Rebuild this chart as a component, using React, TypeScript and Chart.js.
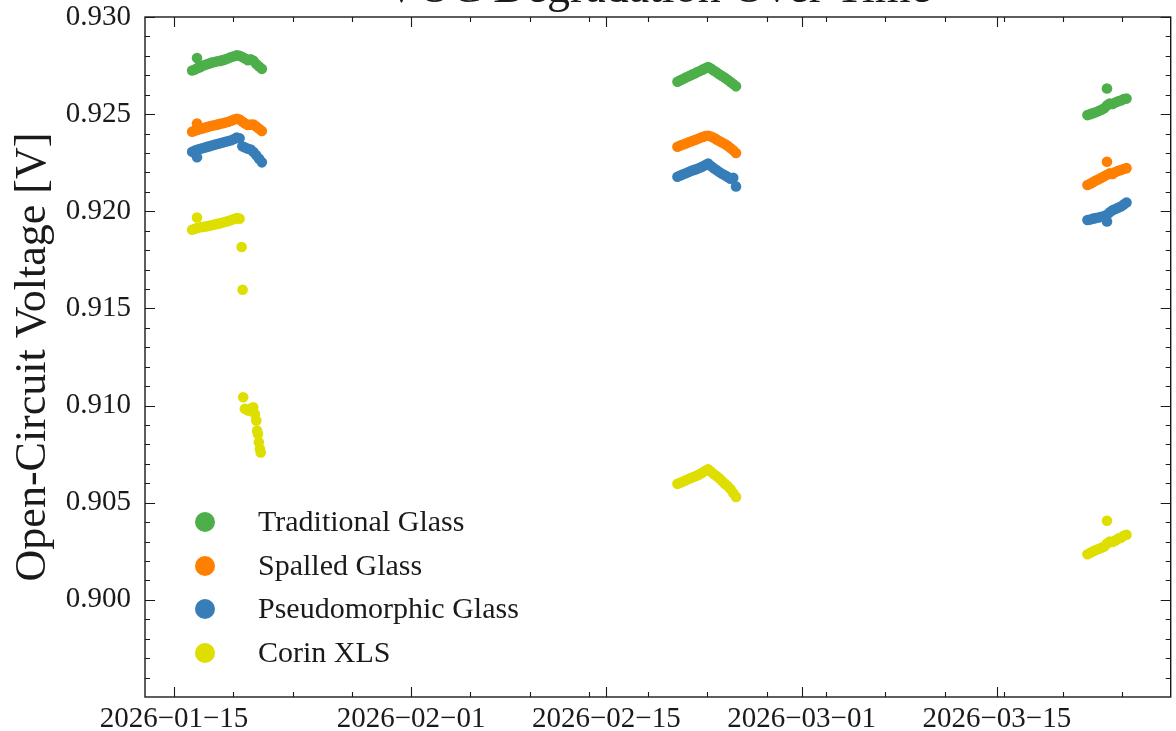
import React, { useEffect, useRef } from "react";
import { Chart, registerables } from "chart.js";

Chart.register(...registerables);

const SERIES_LABELS = ["Traditional Glass", "Spalled Glass", "Pseudomorphic Glass", "Corin XLS"];
const SERIES_COLORS = ["#4daf4a", "#ff7f00", "#377eb8", "#dede00"];
const TITLE = "VOC Degradation Over Time";
const Y_TITLE = "Open-Circuit Voltage [V]";

// x values are days since 2026-01-01 (day 14 = 2026-01-15)
const X_MIN = 11.92;
const X_MAX = 85.47;
const Y_MIN = 0.895;
const Y_MAX = 0.93;
const X_TICK_DAYS = [14, 31, 45, 59, 73];
const X_TICK_LABELS = ["2026\u221201\u221215", "2026\u221202\u221201", "2026\u221202\u221215", "2026\u221203\u221201", "2026\u221203\u221215"];
const X_MINOR_DAYS = [18.25, 22.5, 26.75, 35.25, 39.5, 43.75, 48, 52.25, 56.5, 60.75, 65, 69.25, 73.5, 77.75, 82];
const Y_TICKS = [0.9, 0.905, 0.91, 0.915, 0.92, 0.925, 0.93];

// measurement times (days since 2026-01-01)
const T1 = [15.3, 15.5, 15.7, 15.9, 16.1, 16.3, 16.5, 16.7, 16.9, 17.1, 17.3, 17.5, 17.7, 17.9, 18.1, 18.3, 18.5, 18.7, 18.9, 19.1, 19.3, 19.5, 19.7, 19.9, 20.1, 20.3];
const T2 = [50.1, 50.3, 50.5, 50.7, 50.9, 51.1, 51.3, 51.5, 51.7, 51.9, 52.1, 52.3, 52.5, 52.7, 52.9, 53.1, 53.3, 53.5, 53.7, 53.9, 54.1, 54.3];
const T3 = [79.5, 79.7, 79.9, 80.1, 80.3, 80.5, 80.7, 80.9, 81.1, 81.3, 81.5, 81.7, 81.9, 82.1, 82.3];
const SPIKE_T = [15.65, 80.9];

// Traditional Glass
const TRAD_C1 = [0.92725, 0.9273, 0.92738, 0.92742, 0.9275, 0.92755, 0.9276, 0.92765, 0.92768, 0.92772, 0.92774, 0.92778, 0.92782, 0.92788, 0.92794, 0.92798, 0.92803, 0.928, 0.92794, 0.92786, 0.92778, 0.92782, 0.92775, 0.92758, 0.92745, 0.92733];
const TRAD_C2 = [0.92667, 0.92674, 0.92681, 0.92688, 0.92695, 0.92702, 0.92708, 0.92715, 0.92722, 0.92729, 0.92736, 0.92743, 0.92735, 0.92725, 0.92715, 0.92705, 0.92696, 0.92687, 0.92677, 0.92666, 0.92655, 0.92643];
const TRAD_C3 = [0.92495, 0.925, 0.92505, 0.9251, 0.92516, 0.92522, 0.9253, 0.92545, 0.92555, 0.92552, 0.9256, 0.92566, 0.9257, 0.92578, 0.9258];
const TRAD_SPIKE = [0.92789, 0.92632];

// Spalled Glass
const SPAL_C1 = [0.9241, 0.92415, 0.9242, 0.92424, 0.92428, 0.92432, 0.92436, 0.9244, 0.92443, 0.92446, 0.9245, 0.92453, 0.92457, 0.92461, 0.92466, 0.92472, 0.92476, 0.92472, 0.92462, 0.92452, 0.92444, 0.92446, 0.92447, 0.92436, 0.92425, 0.92413];
const SPAL_C2 = [0.92332, 0.92338, 0.92344, 0.92349, 0.92355, 0.9236, 0.92366, 0.92371, 0.92377, 0.92382, 0.92387, 0.92389, 0.92385, 0.92378, 0.9237, 0.92362, 0.92354, 0.92346, 0.92337, 0.92326, 0.92314, 0.923];
const SPAL_C3 = [0.92135, 0.92142, 0.9215, 0.92158, 0.92165, 0.92172, 0.9218, 0.92188, 0.92195, 0.92192, 0.92202, 0.92208, 0.92212, 0.92218, 0.92222];
const SPAL_SPIKE = [0.92452, 0.92255];

// Pseudomorphic Glass
const PSEU_C1 = [0.92306, 0.92312, 0.92318, 0.92322, 0.92326, 0.9233, 0.92334, 0.92338, 0.92342, 0.92346, 0.9235, 0.92354, 0.92358, 0.92362, 0.92366, 0.92372, 0.9238, 0.92376, 0.92335, 0.92328, 0.92322, 0.92318, 0.92305, 0.92288, 0.9227, 0.92252];
const PSEU_C2 = [0.92178, 0.92184, 0.9219, 0.92196, 0.92202, 0.92208, 0.92213, 0.92218, 0.92224, 0.9223, 0.92238, 0.92246, 0.92233, 0.92222, 0.92212, 0.92202, 0.92193, 0.92185, 0.92177, 0.92168, 0.92172, 0.92128];
const PSEU_C3 = [0.91955, 0.91958, 0.91962, 0.91965, 0.91968, 0.91972, 0.91975, 0.91982, 0.91995, 0.92005, 0.92012, 0.92018, 0.92025, 0.92035, 0.92045];
const PSEU_SPIKE = [0.92278, 0.91948];

// Corin XLS
const CORIN_C1 = [0.91905, 0.9191, 0.91915, 0.91918, 0.9192, 0.91922, 0.91925, 0.91928, 0.91932, 0.91935, 0.91938, 0.91942, 0.91946, 0.9195, 0.91955, 0.9196, 0.91965, 0.91962];
const CORIN_DROP_T = [18.85, 18.92, 18.96, 19.08, 19.32, 19.5, 19.68, 19.8, 19.9, 19.96, 20.02, 20.08, 20.16, 20.22];
const CORIN_DROP = [0.91816, 0.91596, 0.91043, 0.90983, 0.90974, 0.90985, 0.90991, 0.90957, 0.90923, 0.90871, 0.90854, 0.90811, 0.90777, 0.90759];
const CORIN_C2 = [0.90597, 0.90603, 0.90609, 0.90615, 0.90622, 0.90628, 0.90634, 0.9064, 0.90647, 0.90655, 0.90664, 0.90672, 0.9066, 0.90648, 0.90637, 0.90626, 0.90612, 0.90598, 0.90586, 0.9057, 0.9055, 0.9053];
const CORIN_C3 = [0.90235, 0.90242, 0.9025, 0.90256, 0.90262, 0.90268, 0.90275, 0.9029, 0.903, 0.90298, 0.90305, 0.90315, 0.9032, 0.9033, 0.90335];
const CORIN_SPIKE = [0.91968, 0.90407];

const FONT = "'Liberation Serif', 'DejaVu Serif', serif";
const INK = "#1a1a1a";

function zip(ts: number[], vs: number[]) {
  return vs.map((v, i) => ({ x: ts[i], y: v }));
}

function build(parts: [number[], number[]][]) {
  const out: { x: number; y: number }[] = [];
  parts.forEach(([t, v]) => out.push(...zip(t, v)));
  return out;
}

const SERIES_DATA = [
  build([[T1, TRAD_C1], [T2, TRAD_C2], [T3, TRAD_C3], [SPIKE_T, TRAD_SPIKE]]),
  build([[T1, SPAL_C1], [T2, SPAL_C2], [T3, SPAL_C3], [SPIKE_T, SPAL_SPIKE]]),
  build([[T1, PSEU_C1], [T2, PSEU_C2], [T3, PSEU_C3], [SPIKE_T, PSEU_SPIKE]]),
  build([[T1, CORIN_C1], [CORIN_DROP_T, CORIN_DROP], [T2, CORIN_C2], [T3, CORIN_C3], [SPIKE_T, CORIN_SPIKE]]),
];

const framePlugin = {
  id: "frameTicks",
  afterDraw(chart: any) {
    const { ctx, chartArea } = chart;
    const { left, right, top, bottom } = chartArea;
    const xs = chart.scales.x;
    const ys = chart.scales.y;
    ctx.save();
    ctx.strokeStyle = INK;
    ctx.lineWidth = 1.4;
    ctx.strokeRect(left, top, right - left, bottom - top);
    ctx.lineWidth = 1.1;
    const MAJ = 10;
    const MIN = 5;
    ctx.beginPath();
    X_TICK_DAYS.forEach((d) => {
      const px = Math.round(xs.getPixelForValue(d)) + 0.5;
      ctx.moveTo(px, bottom); ctx.lineTo(px, bottom - MAJ);
      ctx.moveTo(px, top); ctx.lineTo(px, top + MAJ);
    });
    X_MINOR_DAYS.forEach((d) => {
      const px = Math.round(xs.getPixelForValue(d)) + 0.5;
      ctx.moveTo(px, bottom); ctx.lineTo(px, bottom - MIN);
      ctx.moveTo(px, top); ctx.lineTo(px, top + MIN);
    });
    Y_TICKS.forEach((v) => {
      const py = Math.round(ys.getPixelForValue(v)) + 0.5;
      ctx.moveTo(left, py); ctx.lineTo(left + MAJ, py);
      ctx.moveTo(right, py); ctx.lineTo(right - MAJ, py);
    });
    for (let k = 896; k <= 929; k++) {
      if (k % 5 === 0) continue;
      const py = Math.round(ys.getPixelForValue(k / 1000)) + 0.5;
      ctx.moveTo(left, py); ctx.lineTo(left + MIN, py);
      ctx.moveTo(right, py); ctx.lineTo(right - MIN, py);
    }
    ctx.stroke();

    // title (mostly above the visible page)
    ctx.fillStyle = INK;
    ctx.font = `46px ${FONT}`;
    ctx.textAlign = "center";
    ctx.textBaseline = "alphabetic";
    ctx.fillText(TITLE, (left + right) / 2, 2);

    // legend
    const rows = [522, 566, 609, 653];
    ctx.font = `30px ${FONT}`;
    ctx.textAlign = "left";
    ctx.textBaseline = "middle";
    SERIES_LABELS.forEach((lab, i) => {
      ctx.fillStyle = SERIES_COLORS[i];
      ctx.beginPath();
      ctx.arc(205, rows[i], 10, 0, Math.PI * 2);
      ctx.fill();
      ctx.fillStyle = INK;
      ctx.fillText(lab, 258, rows[i] + 1);
    });
    ctx.restore();
  },
};

export default function App() {
  const ref = useRef<HTMLCanvasElement | null>(null);
  useEffect(() => {
    if (!ref.current) return;
    const chart = new Chart(ref.current, {
      type: "scatter",
      data: {
        datasets: SERIES_LABELS.map((label, i) => ({
          label,
          data: SERIES_DATA[i],
          backgroundColor: SERIES_COLORS[i],
          borderColor: SERIES_COLORS[i],
          pointRadius: 5.3,
          pointBorderWidth: 0,
          showLine: false,
        })),
      },
      options: {
        responsive: false,
        animation: false,
        devicePixelRatio: 1,
        layout: { padding: { top: 17, right: 4, left: 0, bottom: 0 } },
        plugins: { legend: { display: false }, title: { display: false }, tooltip: { enabled: false } },
        scales: {
          x: {
            type: "linear",
            min: X_MIN,
            max: X_MAX,
            grid: { display: false, drawTicks: false },
            border: { display: false },
            afterBuildTicks: (s: any) => { s.ticks = X_TICK_DAYS.map((v) => ({ value: v })); },
            afterFit: (s: any) => { s.height = 34; s.paddingLeft = 0; s.paddingRight = 0; },
            ticks: {
              autoSkip: false,
              maxRotation: 0,
              padding: 5,
              color: INK,
              font: { family: FONT, size: 29 },
              callback: (_v: any, i: number) => X_TICK_LABELS[i],
            },
          },
          y: {
            type: "linear",
            min: Y_MIN,
            max: Y_MAX,
            grid: { display: false, drawTicks: false },
            border: { display: false },
            afterBuildTicks: (s: any) => { s.ticks = Y_TICKS.map((v) => ({ value: v })); },
            afterFit: (s: any) => { s.width = 145; s.paddingTop = 0; s.paddingBottom = 0; },
            ticks: {
              padding: 14,
              color: INK,
              font: { family: FONT, size: 29 },
              callback: (v: any) => Number(v).toFixed(3),
            },
            title: {
              display: true,
              text: Y_TITLE,
              color: INK,
              font: { family: FONT, size: 44, lineHeight: 1 },
              padding: { top: 11, bottom: 0 },
            },
          },
        },
      },
      plugins: [framePlugin],
    } as any);
    return () => chart.destroy();
  }, []);
  return (
    <div style={{ position: "fixed", left: 0, top: 0, width: 1176, height: 731, background: "#fff" }}>
      <canvas ref={ref} width={1176} height={731} style={{ display: "block" }} />
    </div>
  );
}
